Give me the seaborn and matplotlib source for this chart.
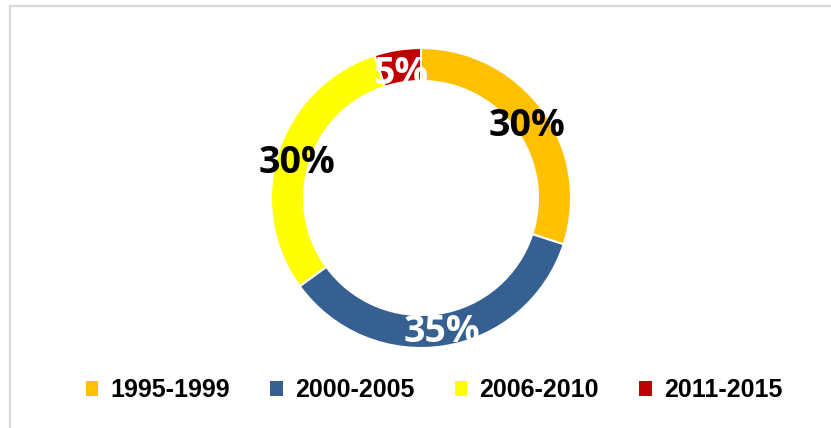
import matplotlib
matplotlib.use("Agg")
import matplotlib.pyplot as plt
import matplotlib.transforms as mtransforms
from matplotlib.lines import Line2D
from matplotlib.patches import Patch
import seaborn as sns

periods = ["1995-1999", "2000-2005", "2006-2010", "2011-2015"]
shares = [30, 35, 30, 5]
colours = ["#FFC000", "#376092", "#FFFF00", "#C00000"]
label_colours = ["black", "white", "black", "white"]

sns.set_theme(style="white")
plt.rcParams["font.family"] = ["Liberation Sans Narrow", "Liberation Sans", "DejaVu Sans"]

W, H = 831, 428
fig = plt.figure(figsize=(W / 100, H / 100), dpi=100)

# donut centre and radius in pixels
cx, cy, r = 421, 198, 150
ax = fig.add_axes([(cx - r) / W, 1 - (cy + r) / H, 2 * r / W, 2 * r / H])

wedges, texts, autotexts = ax.pie(
    shares, colors=colours, startangle=90, counterclock=False, radius=1,
    autopct="%d%%", pctdistance=0.87,
    wedgeprops=dict(width=0.22, edgecolor="white", linewidth=1.5),
)
# labels sit a few pixels lower in the reference
shift = mtransforms.offset_copy(ax.transData, fig=fig, x=0, y=-5, units="dots")
for t, c in zip(autotexts, label_colours):
    t.set_color(c)
    t.set_fontsize(27)
    t.set_fontweight("bold")
    t.set_family(["Open Sans", "DejaVu Sans"])
    t.set_transform(shift)
ax.set_xlim(-1, 1)
ax.set_ylim(-1, 1)
ax.set_aspect("equal")
ax.axis("off")

# legend along the bottom
handles = [Patch(facecolor=c, edgecolor="none") for c in colours]
leg = fig.legend(handles, periods, loc="center", bbox_to_anchor=(434 / W, 1 - 390 / H),
                 ncol=4, frameon=False, handlelength=0.5, handleheight=0.55,
                 handletextpad=0.5, columnspacing=1.6,
                 prop=dict(weight="bold", size=18), labelcolor="black")

# partial chart-area frame (top and left edges only visible)
fig.add_artist(Line2D([10 / W, 1], [1 - 6 / H, 1 - 6 / H], color="#d9d9d9", linewidth=1.6))
fig.add_artist(Line2D([10 / W, 10 / W], [0, 1 - 6 / H], color="#d9d9d9", linewidth=1.6))

fig.savefig("out.png", dpi=100, facecolor="white")
